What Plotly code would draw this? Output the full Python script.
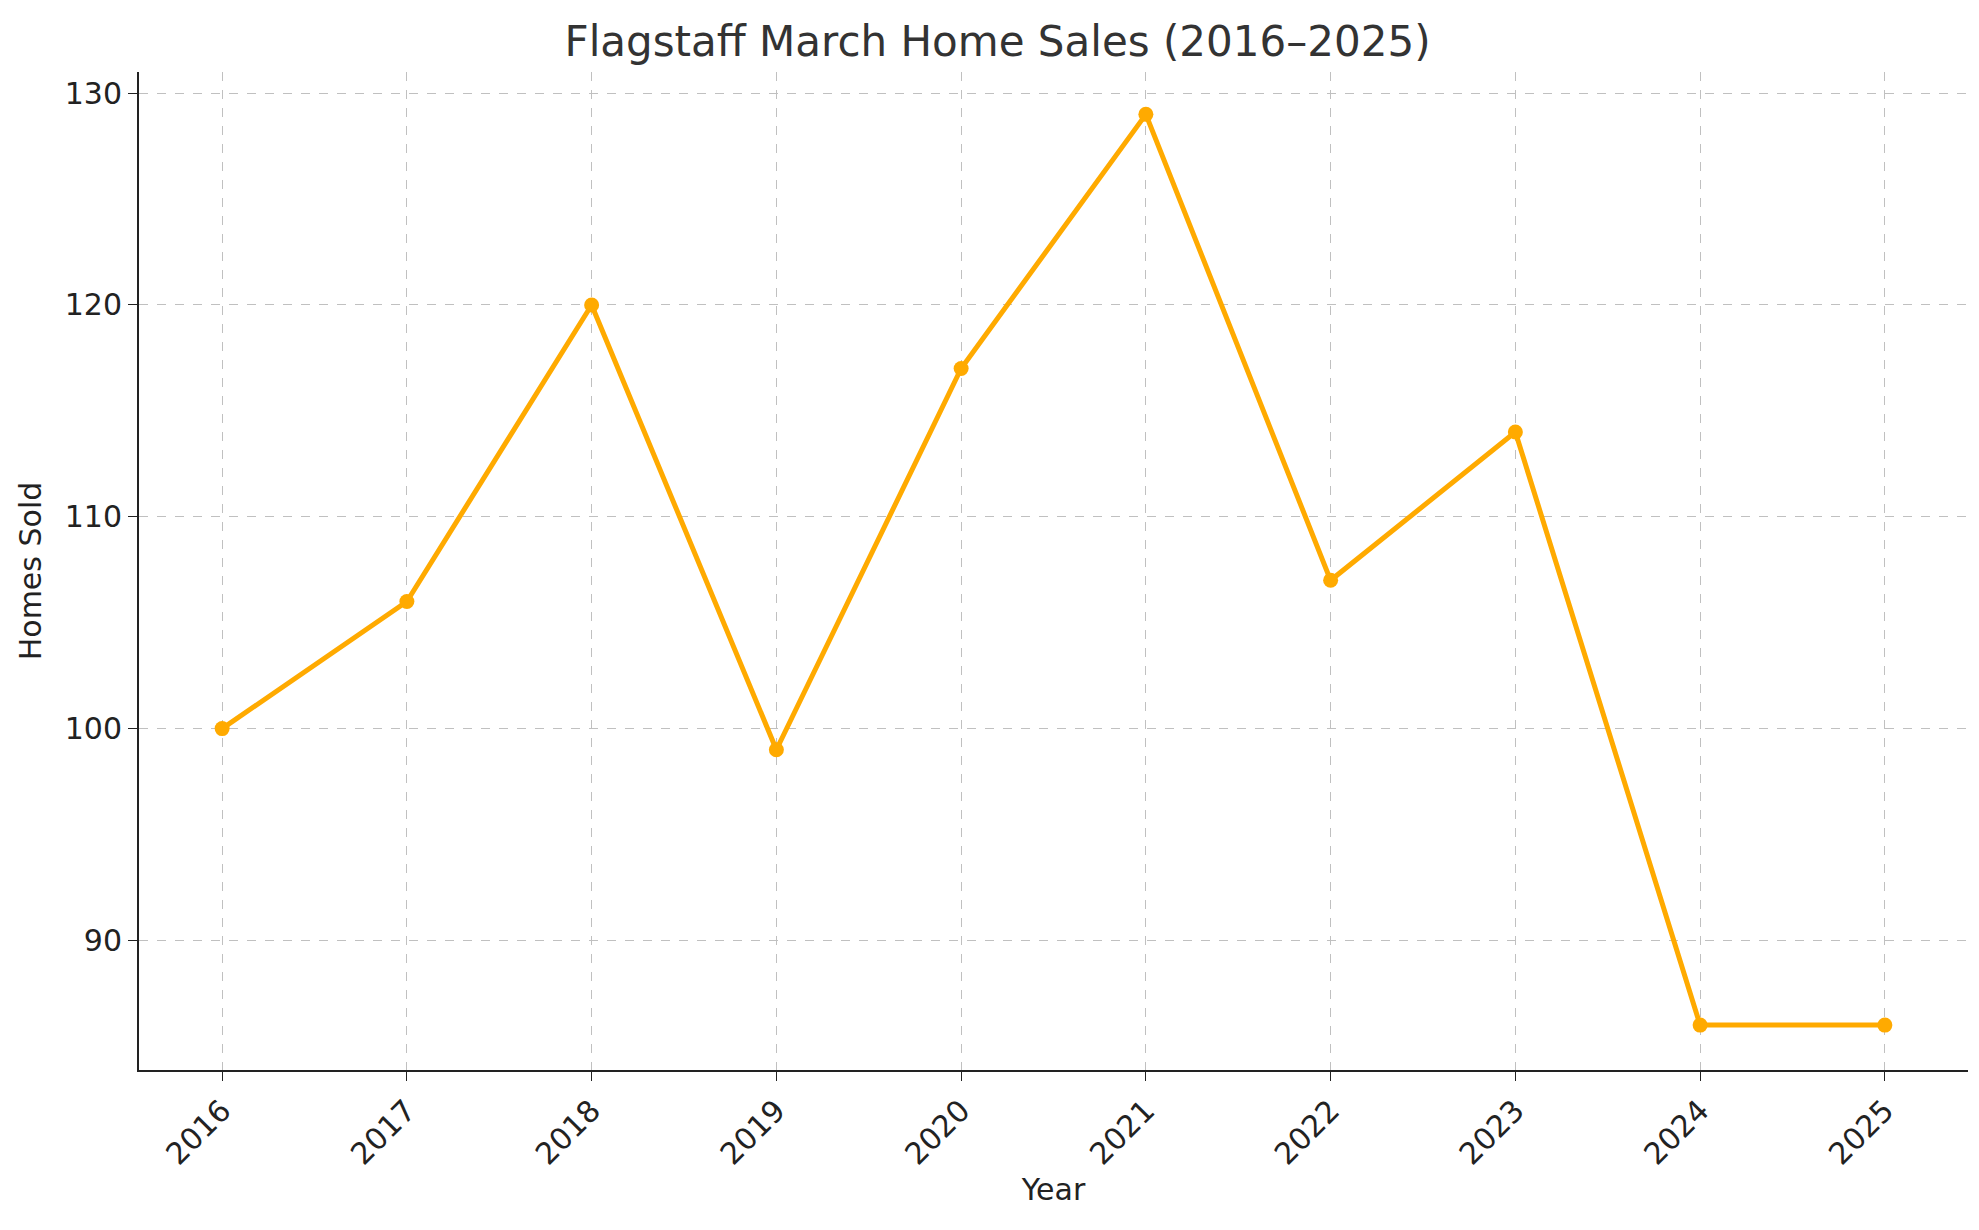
import plotly.graph_objects as go

years = [2016, 2017, 2018, 2019, 2020, 2021, 2022, 2023, 2024, 2025]
homes_sold = [100, 106, 120, 99, 117, 129, 107, 114, 86, 86]

fig = go.Figure(go.Scatter(
    x=years, y=homes_sold, mode="lines+markers",
    line=dict(color="#FFAA00", width=5),
    marker=dict(color="#FFAA00", size=15),
))
grid = dict(showgrid=True, gridcolor="#c0c0c0", griddash="dash", gridwidth=1.3,
            showline=True, linecolor="#222", linewidth=2, ticks="outside",
            ticklen=9, tickcolor="#222", zeroline=False,
            tickfont=dict(size=30, color="#222"))
fig.update_layout(
    width=1979, height=1230, plot_bgcolor="white", paper_bgcolor="white",
    font=dict(family="DejaVu Sans", color="#222"),
    title=dict(text="Flagstaff March Home Sales (2016–2025)", x=0.5, xanchor="center",
               y=0.985, yanchor="top", font=dict(size=42, color="#333")),
    margin=dict(l=131, r=19, t=64, b=168),
    showlegend=False,
)
fig.update_xaxes(**grid, range=[2015.55, 2025.45], tickvals=years, tickangle=-45,
                 title=dict(text="Year", font=dict(size=30), standoff=8))
fig.update_yaxes(**grid, range=[83.88, 131.0], tickvals=[90, 100, 110, 120, 130],
                 title=dict(text="Homes Sold", font=dict(size=30), standoff=14))
fig.write_html("out.html")
